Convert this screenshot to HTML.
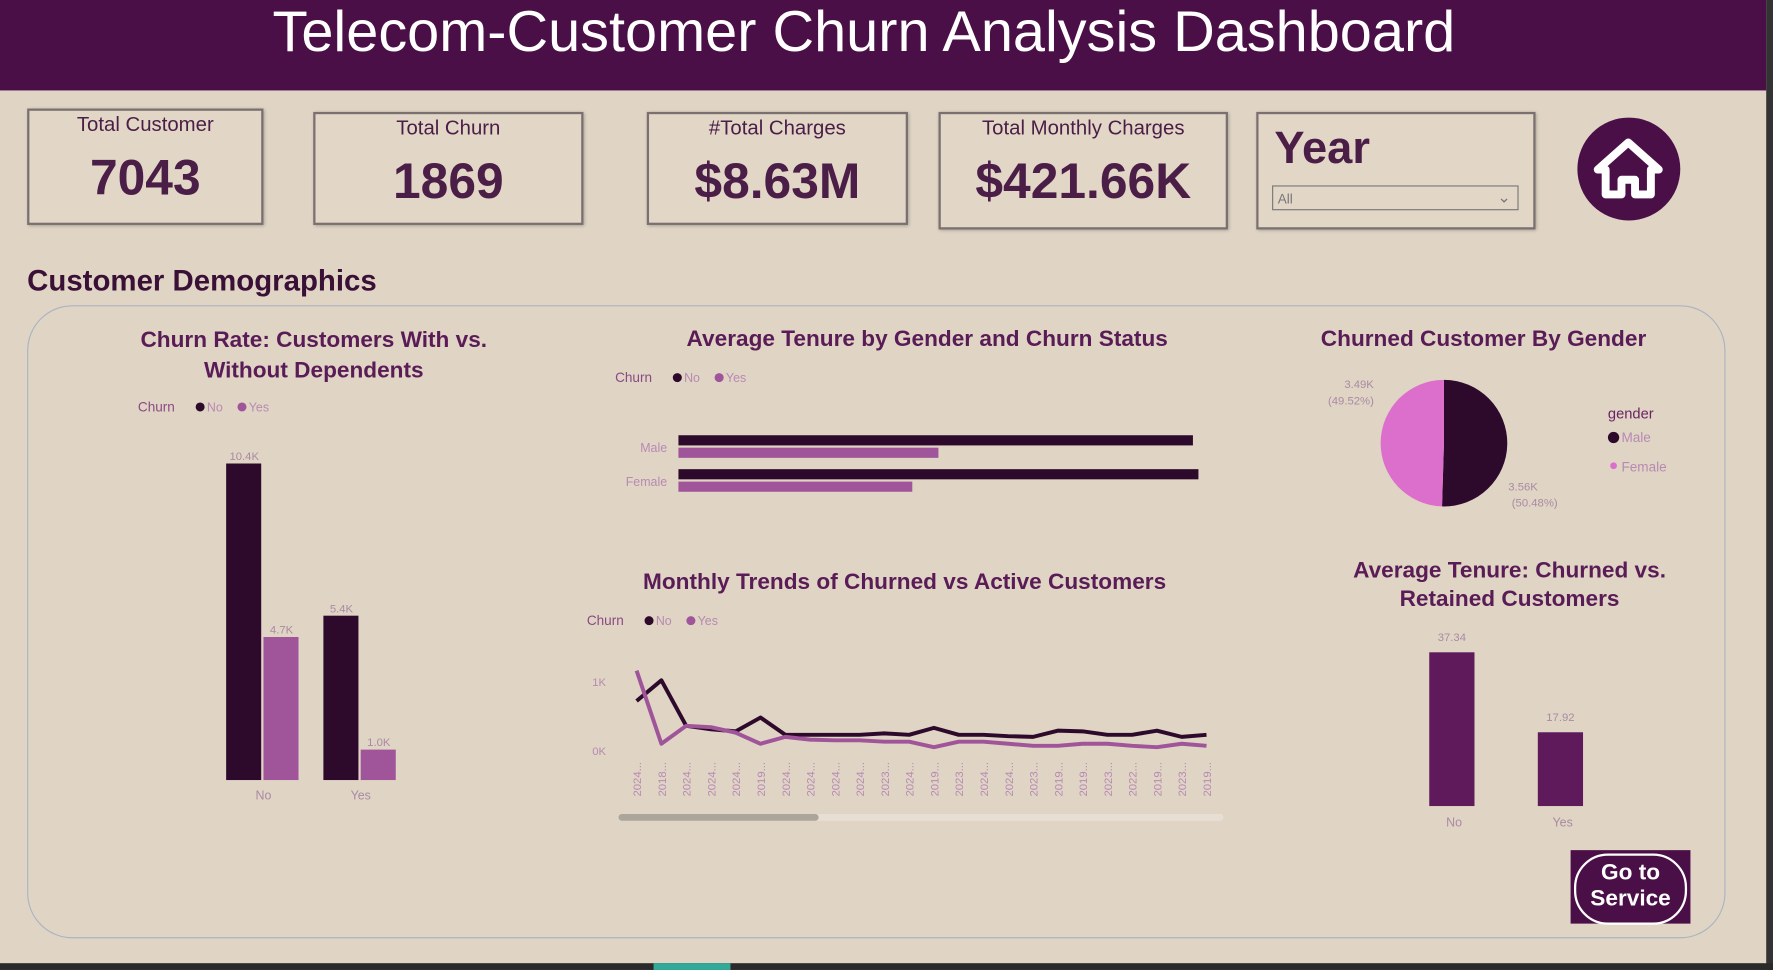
<!DOCTYPE html>
<html><head><meta charset="utf-8">
<style>
html,body{margin:0;padding:0;width:1773px;height:970px;overflow:hidden;background:#e0d4c5;font-family:"Liberation Sans",sans-serif}
#wrap{position:absolute;left:0;top:0;width:1568px;height:858px;transform:scale(1.13074,1.1305);transform-origin:0 0;background:#e0d4c5}
.abs{position:absolute}
.card{position:absolute;border:2px solid #7a7070;box-shadow:1px 1px 3px #998;background:#e2d6c7;text-align:center;color:#4a1e46}
.card .t{font-size:18px;margin-top:2px;color:#4a1e46}
.card .v{font-size:44px;font-weight:bold;color:#4a1e46;margin-top:12px}
.ct{position:absolute;color:#5a1c56;font-size:20px;font-weight:bold;text-align:center}
svg text{font-family:"Liberation Sans",sans-serif}
</style></head><body>
<div id="wrap">
<div class="abs" style="left:0;top:0;width:1562px;height:80px;background:#4b0f47"></div>
<div class="abs" style="left:0;top:0;width:1528px;text-align:center;color:#fff;font-size:51px;line-height:56px">Telecom-Customer Churn Analysis Dashboard</div>
<div class="abs" style="left:1562px;top:0;width:6px;height:858px;background:#333"></div>
<div class="abs" style="left:0;top:852px;width:1568px;height:6px;background:#2a2a2a"></div>
<div class="abs" style="left:578px;top:852px;width:68px;height:6px;background:#3a9"></div>

<div class="card" style="left:24px;top:96px;width:205px;height:99px"><div class="t">Total Customer</div><div class="v">7043</div></div>
<div class="card" style="left:277px;top:99px;width:235px;height:96px"><div class="t">Total Churn</div><div class="v">1869</div></div>
<div class="card" style="left:572px;top:99px;width:227px;height:96px"><div class="t">#Total Charges</div><div class="v">$8.63M</div></div>
<div class="card" style="left:830px;top:99px;width:252px;height:100px"><div class="t">Total Monthly Charges</div><div class="v">$421.66K</div></div>
<div class="card" style="left:1111px;top:99px;width:243px;height:100px;text-align:left">
<div style="font-size:40px;font-weight:bold;margin:8px 0 0 14px;color:#4a1e46">Year</div>
<div style="position:absolute;left:12px;top:63px;width:218px;height:22px;border:1px solid #777;font-size:12px;color:#777;line-height:22px;padding-left:4px;box-sizing:border-box">All<span style="position:absolute;right:6px;top:-2px;font-size:14px">⌄</span></div></div>
<div class="abs" style="left:1395px;top:104px;width:91px;height:91px;border-radius:50%;background:#4b0f47">
<svg width="91" height="91"><path d="M45 22 L18 46 L25 46 L25 68 L39 68 L39 55 L51 55 L51 68 L65 68 L65 46 L72 46 Z" fill="none" stroke="#fff" stroke-width="7" stroke-linejoin="round"/></svg></div>

<div class="abs" style="left:24px;top:233px;font-size:26px;font-weight:bold;color:#3a1036">Customer Demographics</div>
<div class="abs" style="left:24px;top:270px;width:1500px;height:558px;border:1.5px solid #a9b4c2;border-radius:40px"></div>

<div class="ct" style="left:110px;top:288px;width:335px;line-height:27px">Churn Rate: Customers With vs. Without Dependents</div>
<div class="ct" style="left:560px;top:289px;width:520px">Average Tenure by Gender and Churn Status</div>
<div class="ct" style="left:1130px;top:289px;width:364px">Churned Customer By Gender</div>
<div class="ct" style="left:520px;top:504px;width:560px">Monthly Trends of Churned vs Active Customers</div>
<div class="ct" style="left:1170px;top:493px;width:330px;line-height:25px">Average Tenure: Churned vs. Retained Customers</div>

<svg class="abs" style="left:0;top:0" width="1568" height="858" id="charts"></svg>

<div class="abs" style="left:1389px;top:752px;width:106px;height:65px;background:#4b0f47">
<div style="position:absolute;left:3px;top:3px;width:96px;height:55px;border:2px solid #fff;border-radius:30px;color:#fff;font-weight:bold;font-size:20px;text-align:center;line-height:23px;padding-top:4px">Go to<br>Service</div></div>
</div>
<script>
const depCats=["No","Yes"];
const depNo=[10.4,5.4];
const depYes=[4.7,1.0];
const tenCats=["Male","Female"];
const tenNo=[37.4,37.8];
const tenYes=[18.9,17.0];
const pieLabels=["Male","Female"];
const pieValues=[3.5555,3.4875];
const trendLabels=["2024...","2018...","2024...","2024...","2024...","2019...","2024...","2024...","2024...","2024...","2023...","2024...","2019...","2023...","2024...","2024...","2023...","2019...","2019...","2023...","2022...","2019...","2023...","2019..."];
const trendNo=[720,1020,360,310,280,480,230,230,230,230,250,230,330,230,230,210,200,290,280,230,230,290,200,230];
const trendYes=[1160,100,360,340,260,100,200,160,150,150,130,130,50,130,130,100,70,70,100,100,70,50,100,70];
const avgCats=["No","Yes"];
const avgVals=[37.34,17.92];

const NS="http://www.w3.org/2000/svg";
const svg=document.getElementById('charts');
function mk(tag,attrs,parent){const e=document.createElementNS(NS,tag);for(const k in attrs)e.setAttribute(k,attrs[k]);(parent||svg).appendChild(e);return e;}
function txt(x,y,s,size,fill,anchor,parent){const t=mk('text',{x:x,y:y,'font-size':size,fill:fill,'text-anchor':anchor||'start'},parent);t.textContent=s;return t;}
const DARK="#2d0a2b",MID="#a0559a",PURPLE="#5e1a5a",PINK="#dd6fcc";
function legend(x,y,title){const g=mk('g',{});


txt(x,y,title,12,"#8a4a84","start",g);mk('circle',{cx:x+55,cy:y-4,r:4,fill:DARK},g);txt(x+61,y,"No",11,"#b88ab2","start",g);mk('circle',{cx:x+92,cy:y-4,r:4,fill:MID},g);txt(x+98,y,"Yes",11,"#b88ab2","start",g);}

legend(122,364,"Churn");
const dBase=690,dScale=280/10.4;
const dy=v=>dBase-v*dScale;
depCats.forEach((c,i)=>{const cx=233+i*86;
const b1=mk('rect',{x:cx-33,y:dy(depNo[i]),width:31,height:depNo[i]*dScale,fill:DARK});


const b2=mk('rect',{x:cx,y:dy(depYes[i]),width:31,height:depYes[i]*dScale,fill:MID});


txt(cx-17,dy(depNo[i])-3,depNo[i].toFixed(1)+"K",10,"#a98aa3","middle");
txt(cx+16,dy(depYes[i])-3,depYes[i].toFixed(1)+"K",10,"#a98aa3","middle");
txt(cx,707,c,11,"#a98aa3","middle");});

legend(544,338,"Churn");
const tx0=600,tScale=455/37.4;
tenCats.forEach((c,i)=>{const y=385+i*30;
txt(590,y+15,c,11,"#b88ab2","end");
const a=mk('rect',{x:tx0,y:y,width:tenNo[i]*tScale,height:9,fill:DARK});


const b=mk('rect',{x:tx0,y:y+11,width:tenYes[i]*tScale,height:9,fill:MID});

});

const pcx=1277,pcy=392,pr=56;const tot=pieValues.reduce((a,b)=>a+b,0);let ang=0;const pcol=[DARK,PINK];
pieValues.forEach((v,i)=>{const a0=ang,a1=ang+v/tot*2*Math.PI;ang=a1;
const x0=pcx+pr*Math.sin(a0),y0=pcy-pr*Math.cos(a0),x1=pcx+pr*Math.sin(a1),y1=pcy-pr*Math.cos(a1);
const p=mk('path',{d:`M${pcx},${pcy} L${x0},${y0} A${pr},${pr} 0 ${a1-a0>Math.PI?1:0} 1 ${x1},${y1} Z`,fill:pcol[i]});

});
txt(1360,434,pieValues[0].toFixed(2)+"K",10,"#a98aa3","end");txt(1337,448,"("+(pieValues[0]/tot*100).toFixed(2)+"%)",10,"#a98aa3","start");
txt(1215,343,pieValues[1].toFixed(2)+"K",10,"#a98aa3","end");txt(1215,358,"("+(pieValues[1]/tot*100).toFixed(2)+"%)",10,"#a98aa3","end");
txt(1422,370,"gender",13,"#6a2464");mk('circle',{cx:1427,cy:387,r:5,fill:DARK});txt(1434,391,"Male",12,"#b88ab2");
mk('circle',{cx:1427,cy:412,r:3,fill:PINK});txt(1434,417,"Female",12,"#b88ab2");

legend(519,553,"Churn");
const lx0=563,lx1=1067,ly0=664,lyS=61/1000;
const lx=i=>lx0+i*(lx1-lx0)/(trendLabels.length-1);const ly=v=>ly0-v*lyS;
txt(536,607,"1K",10,"#b88ab2","end");txt(536,668,"0K",10,"#b88ab2","end");
[[trendNo,DARK,'trend-line-no'],[trendYes,MID,'trend-line-yes']].forEach(([d,c,n])=>{
const l=mk('polyline',{points:d.map((v,i)=>lx(i)+","+ly(v)).join(" "),fill:"none",stroke:c,'stroke-width':3.5,'stroke-linejoin':'round'});

});
trendLabels.forEach((s,i)=>{const t=txt(0,0,s,10,"#b88ab2","end");t.setAttribute('transform',`translate(${lx(i)+4},674) rotate(-90)`);});
mk('rect',{x:547,y:720,width:535,height:6,rx:3,fill:"#e8dfd4"});
const sb=mk('rect',{x:547,y:720,width:177,height:6,rx:3,fill:"#aba59c"});



const aBase=713,aScale=136/37.34;
avgCats.forEach((c,i)=>{const cx=1284+i*96;
const b=mk('rect',{x:cx-20,y:aBase-avgVals[i]*aScale,width:40,height:avgVals[i]*aScale,fill:PURPLE});


txt(cx,aBase-avgVals[i]*aScale-10,avgVals[i].toFixed(2),10,"#a98aa3","middle");
txt(cx+2,731,c,11,"#a98aa3","middle");});
</script>
</body></html>
